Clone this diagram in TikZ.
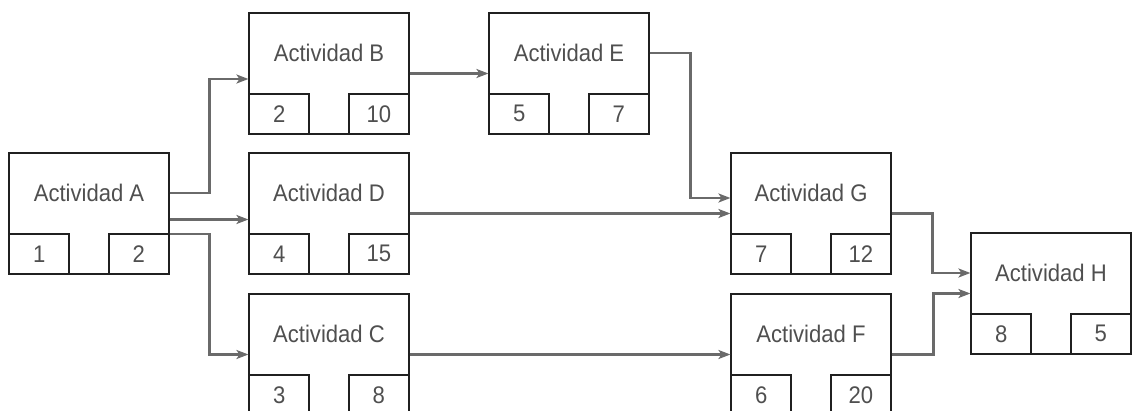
\documentclass[tikz,border=0pt]{standalone}
\usepackage{fontspec}
\setmainfont[FakeStretch=0.92]{Liberation Sans}
\usetikzlibrary{arrows.meta,calc}
\definecolor{linegray}{HTML}{6A6A6A}
\definecolor{textgray}{HTML}{4F4F4F}
\definecolor{boxline}{HTML}{202020}

\begin{document}
\begin{tikzpicture}[x=1pt, y=-1pt,
  >={Stealth[length=12pt, width=9pt, inset=3pt]},
  font=\fontsize{24}{28}\selectfont, text=textgray,
  act/.style={draw=boxline, line width=1.1pt, minimum width=160pt, minimum height=121pt, inner sep=0pt},
  actlabel/.style={inner sep=0pt},
  cell/.style={draw=boxline, line width=1.5pt, minimum width=60pt, minimum height=40pt, inner sep=0pt},
  flow/.style={->, draw=linegray, line width=2.3pt}]

  \useasboundingbox (0,0) rectangle (1136,411);

  % ---- activity A ----
  \node[act] (A) at (89,213.5) {};
  \node[actlabel] (A-t) at ($(A.north)!0.335!(A.south)$) {Actividad A};
  \node[cell, anchor=south west] (A-l) at (A.south west) {1};
  \node[cell, anchor=south east] (A-r) at (A.south east) {2};

  % ---- activities B, D, C ----
  \node[act] (B) at (329,73.5) {};
  \node[actlabel] (B-t) at ($(B.north)!0.335!(B.south)$) {Actividad B};
  \node[cell, anchor=south west] (B-l) at (B.south west) {2};
  \node[cell, anchor=south east] (B-r) at (B.south east) {10};

  \node[act] (D) at (329,213.5) {};
  \node[actlabel] (D-t) at ($(D.north)!0.335!(D.south)$) {Actividad D};
  \node[cell, anchor=south west] (D-l) at (D.south west) {4};
  \node[cell, anchor=south east] (D-r) at (D.south east) {15};

  \node[act] (C) at (329,354.5) {};
  \node[actlabel] (C-t) at ($(C.north)!0.335!(C.south)$) {Actividad C};
  \node[cell, anchor=south west] (C-l) at (C.south west) {3};
  \node[cell, anchor=south east] (C-r) at (C.south east) {8};

  % ---- activity E ----
  \node[act] (E) at (569,73.5) {};
  \node[actlabel] (E-t) at ($(E.north)!0.335!(E.south)$) {Actividad E};
  \node[cell, anchor=south west] (E-l) at (E.south west) {5};
  \node[cell, anchor=south east] (E-r) at (E.south east) {7};

  % ---- activities G, F ----
  \node[act] (G) at (811,213.5) {};
  \node[actlabel] (G-t) at ($(G.north)!0.335!(G.south)$) {Actividad G};
  \node[cell, anchor=south west] (G-l) at (G.south west) {7};
  \node[cell, anchor=south east] (G-r) at (G.south east) {12};

  \node[act] (F) at (811,354.5) {};
  \node[actlabel] (F-t) at ($(F.north)!0.335!(F.south)$) {Actividad F};
  \node[cell, anchor=south west] (F-l) at (F.south west) {6};
  \node[cell, anchor=south east] (F-r) at (F.south east) {20};

  % ---- activity H ----
  \node[act] (H) at (1051,293.5) {};
  \node[actlabel] (H-t) at ($(H.north)!0.335!(H.south)$) {Actividad H};
  \node[cell, anchor=south west] (H-l) at (H.south west) {8};
  \node[cell, anchor=south east] (H-r) at (H.south east) {5};

  % ---- precedences ----
  \draw[flow] ($(A.east)+(0,-20.5)$) -- ++(40,0) |- ($(B.west)+(0,5.5)$);
  \draw[flow] ($(A.east)+(0,6)$) -- ($(D.west)+(0,6)$);
  \draw[flow] ($(A.east)+(0,20.5)$) -- ++(40,0) |- (C.west);
  \draw[flow] (B.east) -- (E.west);
  \draw[flow] ($(E.east)+(0,-20.5)$) -- ++(41,0) |- ($(G.west)+(0,-15.5)$);
  \draw[flow] (D.east) -- (G.west);
  \draw[flow] (C.east) -- (F.west);
  \draw[flow] (G.east) -- ++(41,0) |- ($(H.west)+(0,-20.5)$);
  \draw[flow] (F.east) -- ++(42,0) |- (H.west);

\end{tikzpicture}
\end{document}
